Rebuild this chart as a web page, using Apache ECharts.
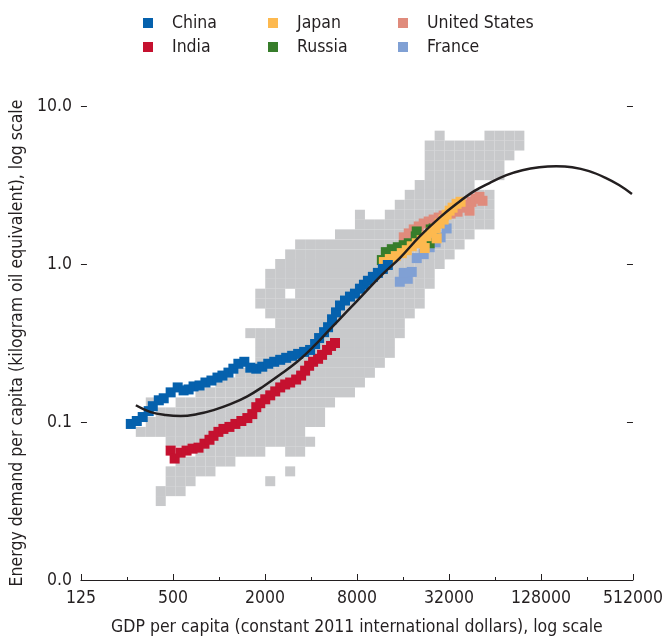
<!DOCTYPE html>
<html><head><meta charset="utf-8">
<script src="https://cdn.jsdelivr.net/npm/echarts@6/dist/echarts.min.js"></script>
<style>html,body{margin:0;padding:0;background:#fff}#c{width:666px;height:641px}</style>
</head><body><div id="c"></div>
<script>
// ---- tick labels ----
const xTickLabels = ['125','500','2000','8000','32000','128000','512000'];
const yTickLabels = ['0.0','0.1','1.0','10.0'];
const xTitle = 'GDP per capita (constant 2011 international dollars), log scale';
const yTitle = 'Energy demand per capita (kilogram oil equivalent), log scale';

// ---- country trajectories: [GDP per capita, energy per capita] ----
const china = [[265,0.0972],[290,0.1015],[317,0.1075],[347,0.1172],[369,0.1259],[404,0.1372],[435,0.1413],[483,0.1540],[537,0.1655],[587,0.1585],[633,0.1607],[682,0.1679],[746,0.1703],[816,0.1778],[893,0.1830],[978,0.1911],[1054,0.1967],[1154,0.2054],[1243,0.2175],[1340,0.2337],[1466,0.2405],[1604,0.2207],[1755,0.2175],[1921,0.2239],[2102,0.2337],[2300,0.2405],[2517,0.2475],[2754,0.2548],[3014,0.2623],[3298,0.2698],[3609,0.2778],[3950,0.2858],[4258,0.3117],[4522,0.3398],[4874,0.3704],[5176,0.3981],[5496,0.4467],[5836,0.4942],[6197,0.5464],[6680,0.5870],[7201,0.6218],[7763,0.6494],[8368,0.6978],[8886,0.7391],[9437,0.7830],[10171,0.8292],[10965,0.8785],[11819,0.9306],[12741,0.9857]];
const india = [[483,0.0659],[513,0.0587],[561,0.0640],[614,0.0659],[672,0.0678],[735,0.0688],[804,0.0729],[867,0.0772],[921,0.0818],[992,0.0866],[1070,0.0904],[1171,0.0931],[1281,0.0972],[1402,0.1015],[1534,0.1059],[1653,0.1122],[1755,0.1241],[1864,0.1315],[2009,0.1392],[2166,0.1475],[2335,0.1562],[2517,0.1655],[2713,0.1728],[2925,0.1778],[3201,0.1857],[3450,0.1967],[3664,0.2113],[3891,0.2270],[4132,0.2405],[4454,0.2512],[4730,0.2661],[5099,0.2858],[5414,0.3029],[5749,0.3162]];
const japan = [[11997,1.029],[13128,1.075],[14366,1.122],[15720,1.172],[16947,1.223],[18268,1.295],[19693,1.353],[21226,1.415],[22882,1.500],[24665,1.590],[26192,1.690],[27813,1.804],[29535,1.911],[30898,2.054],[32319,2.175],[33809,2.272],[35903,2.405],[38122,2.475],[22205,1.262],[26590,1.454]];
const russia = [[11643,1.059],[12363,1.189],[13529,1.241],[14804,1.277],[16199,1.315],[17464,1.353],[19399,1.496],[19693,1.607],[24297,1.655],[25417,1.679],[23935,1.353]];
const unitedStates = [[16199,1.475],[17464,1.562],[18824,1.655],[20294,1.728],[21873,1.804],[23581,1.857],[25417,1.911],[27401,1.967],[29535,2.025],[32807,2.084],[36446,2.144],[39286,2.272],[42351,2.371],[44970,2.475],[47754,2.585],[50708,2.661],[53046,2.512],[43639,2.175]];
const france = [[15255,0.772],[17203,0.806],[16199,0.8785],[18268,0.891],[19693,1.090],[21873,1.155],[23935,1.277],[26192,1.372],[28233,1.475],[30898,1.679]];

// ---- fitted curve ----
const fitCurve = [[286,0.1277],[358,0.1155],[448,0.1106],[561,0.1090],[724,0.1122],[921,0.1189],[1188,0.1296],[1534,0.1454],[1950,0.1679],[2517,0.1995],[3249,0.2405],[4132,0.2985],[5333,0.3869],[6884,0.5012],[9021,0.6589],[11643,0.8536],[15255,1.090],[20598,1.496],[27813,1.967],[35903,2.405],[47043,2.901],[58923,3.255],[76061,3.652],[96711,3.925],[124828,4.097],[161136,4.156],[204881,4.097],[264446,3.869],[341362,3.498],[414906,3.162],[504345,2.778]];

// ---- other countries (grey cloud): GDP columns and energy values in each ----
const greyGdp = [308,358,416,483,561,652,757,880,1023,1188,1381,1604,1864,2166,2517,2925,3399,3950,4590,5333,6197,7201,8368,9723,11298,13128,15255,17727,20598,23935,27813,32319,37555,43639,50708,58923,68468,79560,92449];
const greyEnergy = [
 [0.0866],
 [0.133,0.100,0.0866],
 [0.115,0.100,0.0866,0.0365,0.0316],
 [0.115,0.100,0.0866,0.0750,0.0487,0.0422,0.0365],
 [0.133,0.115,0.100,0.0866,0.0750,0.0562,0.0487,0.0422,0.0365],
 [0.133,0.115,0.100,0.0866,0.0750,0.0562,0.0487,0.0422],
 [0.154,0.133,0.115,0.100,0.0866,0.0750,0.0649,0.0562,0.0487],
 [0.154,0.133,0.115,0.100,0.0866,0.0750,0.0649,0.0562,0.0487],
 [0.178,0.154,0.133,0.115,0.100,0.0866,0.0750,0.0649,0.0562],
 [0.178,0.154,0.133,0.115,0.100,0.0866,0.0750,0.0649,0.0562],
 [0.205,0.178,0.154,0.133,0.115,0.100,0.0866,0.0750,0.0649],
 [0.365,0.205,0.178,0.154,0.133,0.115,0.100,0.0866,0.0750,0.0649],
 [0.649,0.562,0.365,0.316,0.274,0.237,0.205,0.178,0.154,0.133,0.115,0.100,0.0866,0.0750,0.0649],
 [0.866,0.750,0.649,0.562,0.487,0.365,0.316,0.274,0.237,0.205,0.178,0.154,0.133,0.115,0.100,0.0866,0.0750,0.0422],
 [1.00,0.866,0.750,0.649,0.562,0.487,0.422,0.365,0.316,0.274,0.237,0.205,0.178,0.154,0.133,0.115,0.100,0.0866,0.0750],
 [1.15,1.00,0.866,0.750,0.562,0.487,0.422,0.365,0.316,0.274,0.237,0.205,0.178,0.154,0.133,0.115,0.100,0.0866,0.0750,0.0649,0.0487],
 [1.33,1.15,1.00,0.866,0.750,0.649,0.562,0.487,0.422,0.365,0.316,0.274,0.237,0.205,0.178,0.154,0.133,0.115,0.100,0.0866,0.0750,0.0649],
 [1.33,1.15,1.00,0.866,0.750,0.649,0.562,0.487,0.422,0.365,0.316,0.274,0.237,0.205,0.178,0.154,0.133,0.115,0.100,0.0750],
 [1.33,1.15,1.00,0.866,0.750,0.649,0.562,0.487,0.422,0.365,0.316,0.274,0.237,0.205,0.178,0.154,0.133,0.115,0.100],
 [1.33,1.15,1.00,0.866,0.750,0.649,0.562,0.487,0.422,0.365,0.316,0.274,0.237,0.205,0.178,0.154,0.133],
 [1.54,1.33,1.15,1.00,0.866,0.750,0.649,0.562,0.487,0.422,0.365,0.316,0.274,0.237,0.205,0.178,0.154],
 [1.54,1.33,1.15,1.00,0.866,0.750,0.649,0.562,0.487,0.422,0.365,0.316,0.274,0.237,0.205,0.178,0.154],
 [2.05,1.78,1.54,1.33,1.15,1.00,0.866,0.750,0.649,0.562,0.487,0.422,0.365,0.316,0.274,0.237,0.205,0.178],
 [1.78,1.54,1.33,1.15,1.00,0.866,0.750,0.649,0.562,0.487,0.422,0.365,0.316,0.274,0.237,0.205],
 [1.78,1.54,1.33,1.15,1.00,0.866,0.750,0.649,0.562,0.487,0.422,0.365,0.316,0.274,0.237],
 [2.05,1.78,1.54,1.33,1.15,1.00,0.866,0.750,0.649,0.562,0.487,0.422,0.365,0.316,0.274],
 [2.37,2.05,1.78,1.54,1.33,1.15,1.00,0.866,0.750,0.649,0.562,0.487,0.422,0.365],
 [2.74,2.37,2.05,1.78,1.54,1.33,1.15,1.00,0.866,0.750,0.649,0.562,0.487],
 [3.16,2.74,2.37,2.05,1.78,1.54,1.33,1.15,1.00,0.866,0.750,0.649,0.562],
 [5.62,4.87,4.22,3.65,3.16,2.74,2.37,2.05,1.78,1.54,1.33,1.15,1.00,0.866,0.750],
 [6.49,5.62,4.87,4.22,3.65,3.16,2.74,2.37,2.05,1.78,1.54,1.33,1.15,1.00],
 [5.62,4.87,4.22,3.65,3.16,2.74,2.37,2.05,1.78,1.54,1.33,1.15],
 [5.62,4.87,4.22,3.65,3.16,2.74,2.37,2.05,1.78,1.54,1.33],
 [5.62,4.87,4.22,3.65,3.16,2.74,2.37,2.05,1.78,1.54],
 [5.62,4.87,4.22,3.65,2.74,2.37,2.05,1.78],
 [6.49,5.62,4.87,4.22,3.65,2.74,2.37,2.05,1.78],
 [6.49,5.62,4.87,4.22,3.65],
 [6.49,5.62,4.87],
 [6.49,5.62]
];

// ---- build ----
const FONT = "'Liberation Sans Narrow','Arial Narrow','DejaVu Sans Condensed',sans-serif";
const FS = 17.5;
const INK = '#231f20';
const lx = g => Math.log(g / 125) / Math.log(4);   // position on the base-4 log axis (0 = 125)
const toXY = arr => arr.map(p => [lx(p[0]), p[1]]);
const greyPts = [];
greyGdp.forEach((g, i) => greyEnergy[i].forEach(e => greyPts.push([lx(g), e])));

const colors = {China:'#0561ad', India:'#c5112f', Japan:'#fdb94f', Russia:'#377d2b', 'United States':'#e08b7c', France:'#80a0d4'};
const sc = (name, data) => ({name, type:'scatter', symbol:'rect', symbolSize:10, data:toXY(data),
  itemStyle:{color:colors[name], opacity:1}, emphasis:{disabled:true}, z:3});

const legendPos = [['China',143,14],['India',143,38],['Japan',268,14],['Russia',268,38],['United States',398,14],['France',398,38]];

const chart = echarts.init(document.getElementById('c'), null, {renderer:'canvas'});
chart.setOption({
  animation:false,
  backgroundColor:'#fff',
  textStyle:{fontFamily:FONT},
  legend: legendPos.map(([n,l,t]) => ({data:[{name:n, icon:'rect'}], left:l, top:t, padding:0, itemWidth:10, itemHeight:10,
    selectedMode:false, textStyle:{fontFamily:FONT, fontSize:FS, color:INK, padding:[0,0,0,14]}})),
  grid:{left:80, right:32, top:106, bottom:55, containLabel:false},
  xAxis:{type:'value', min:0, max:6, interval:1,
    axisLine:{show:true, lineStyle:{color:INK, width:1}},
    axisTick:{show:true, inside:true, length:6, lineStyle:{color:INK}},
    minorTick:{show:true, splitNumber:2, length:3, lineStyle:{color:INK}},
    splitLine:{show:false},
    axisLabel:{formatter:v => xTickLabels[Math.round(v)], fontFamily:FONT, fontSize:FS, color:INK, margin:9},
    name:xTitle, nameLocation:'middle', nameGap:38, nameTextStyle:{fontFamily:FONT, fontSize:FS, color:INK}},
  yAxis:[
    {type:'log', logBase:10, min:0.01, max:10, position:'left',
     axisLine:{show:false}, axisTick:{show:true, inside:true, length:6, lineStyle:{color:INK}},
     splitLine:{show:false},
     axisLabel:{formatter:v => yTickLabels[Math.round(Math.log10(v)) + 2], fontFamily:FONT, fontSize:FS, color:INK, margin:9},
     name:yTitle, nameLocation:'middle', nameGap:52, nameTextStyle:{fontFamily:FONT, fontSize:FS, color:INK}},
    {type:'log', logBase:10, min:0.01, max:10, position:'right',
     axisLine:{show:false}, axisTick:{show:true, inside:true, length:6, lineStyle:{color:INK}},
     splitLine:{show:false}, axisLabel:{show:false}}
  ],
  series:[
    {name:'Other countries', type:'scatter', symbol:'rect', symbolSize:10, data:greyPts,
     itemStyle:{color:'#c8c9cb', opacity:1}, emphasis:{disabled:true}, z:2},
    sc('United States', unitedStates),
    sc('France', france),
    sc('Russia', russia),
    sc('Japan', japan),
    sc('India', india),
    sc('China', china),
    {name:'fit', type:'line', data:toXY(fitCurve), smooth:0.4, showSymbol:false, symbol:'none',
     lineStyle:{color:INK, width:2.5}, emphasis:{disabled:true}, z:5}
  ]
});
</script></body></html>
